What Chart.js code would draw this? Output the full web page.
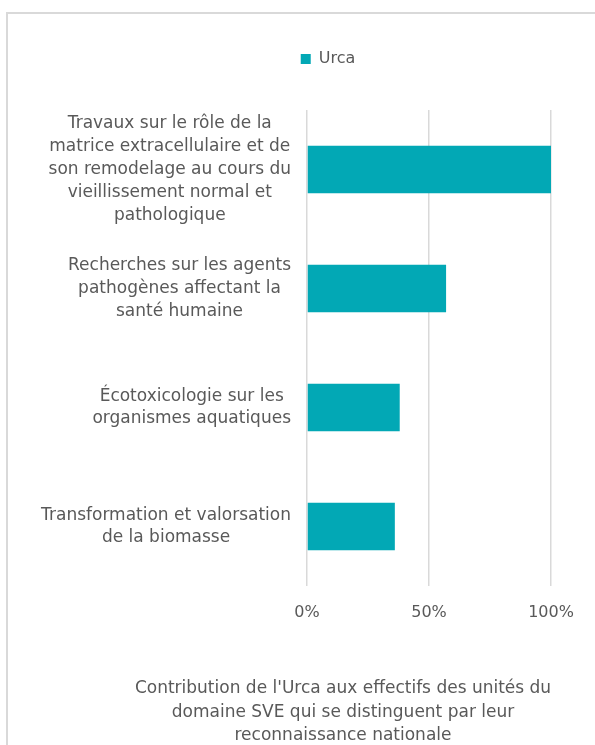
<!DOCTYPE html>
<html>
<head>
<meta charset="utf-8">
<script src="https://cdn.jsdelivr.net/npm/chart.js@4.4.0/dist/chart.umd.min.js"></script>
<style>
html, body { margin:0; padding:0; background:#fff; overflow:hidden; width:595px; height:745px; }
#cadre { position:absolute; left:6px; top:12px; width:600px; height:740px; border-left:2px solid #d9d9d9; border-top:2px solid #d9d9d9; }
#graficoCanvas { position:absolute; left:8px; top:14px; }
</style>
</head>
<body>
<div id="cadre"></div>
<canvas id="graficoCanvas" width="587" height="731"></canvas>
<script>
// donnees
const categories = [
	["Travaux sur le rôle de la", "matrice extracellulaire et de", "son remodelage au cours du", "vieillissement normal et", "pathologique"],
	["Recherches sur les agents", "pathogènes affectant la", "santé humaine"],
	["Écotoxicologie sur les", "organismes aquatiques"],
	["Transformation et valorsation", "de la biomasse"]
]
const serieNom = "Urca"
const valeursUrca = [100, 57, 38, 36]
const ticksX = [0, 50, 100]
const titreAxe = [
	"Contribution de l'Urca aux effectifs des unités du",
	"domaine SVE qui se distinguent par leur",
	"reconnaissance nationale"
]

const police = "'DejaVu Sans', sans-serif"
const gris = '#595959'

// etiquettes des categories : lignes centrees, bloc aligne a droite
const etiquettesY = {
	id: 'etiquettesY',
	afterDraw(chart) {
		const ctx = chart.ctx
		const y = chart.scales.y
		const hLigne = 22.8
		ctx.save()
		ctx.font = '17px ' + police
		ctx.fillStyle = gris
		ctx.textAlign = 'center'
		ctx.textBaseline = 'middle'
		categories.forEach((lignes, i) => {
			const yc = y.getPixelForValue(i)
			const largeur = Math.max(...lignes.map(l => ctx.measureText(l).width))
			const xc = y.right - 16 - largeur / 2
			lignes.forEach((l, j) => {
				ctx.fillText(l, xc, yc + (j - (lignes.length - 1) / 2) * hLigne)
			})
		})
		ctx.restore()
	}
}

// titre de l'axe en bas
const titreBas = {
	id: 'titreBas',
	afterDraw(chart) {
		const ctx = chart.ctx
		ctx.save()
		ctx.font = '17px ' + police
		ctx.fillStyle = gris
		ctx.textAlign = 'center'
		ctx.textBaseline = 'middle'
		titreAxe.forEach((l, j) => {
			ctx.fillText(l, 335, 675 + j * 23.5)
		})
		ctx.restore()
	}
}

// espace sous la legende
const espaceLegende = {
	id: 'espaceLegende',
	beforeInit(chart) {
		const fitOrig = chart.legend.fit
		chart.legend.fit = function () {
			fitOrig.bind(chart.legend)()
			this.height += 33
		}
	}
}

const ctx = document.getElementById('graficoCanvas').getContext('2d')

const graficoUrca = new Chart(ctx, {
	type: 'bar',
	data: {
		labels: categories,
		datasets: [{
			label: serieNom,
			data: valeursUrca,
			backgroundColor: '#02A8B5',
			barPercentage: 0.4,
			categoryPercentage: 1
		}]
	},
	options: {
		indexAxis: 'y',
		responsive: false,
		animation: false,
		layout: {
			padding: { left: 97, right: 44, top: 27, bottom: 119 }
		},
		scales: {
			x: {
				min: 0,
				max: 100,
				afterBuildTicks: (scale) => { scale.ticks = ticksX.map(v => ({ value: v })) },
				afterFit: (scale) => { scale.height = 40 },
				border: { display: false },
				grid: {
					color: '#d9d9d9',
					lineWidth: 1.5,
					drawTicks: false
				},
				ticks: {
					padding: 17,
					color: gris,
					font: { size: 16, family: police },
					callback: (v) => v + '%'
				}
			},
			y: {
				afterFit: (scale) => { scale.width = 202 },
				border: { display: false },
				grid: { display: false },
				ticks: { display: false }
			}
		},
		plugins: {
			legend: {
				display: true,
				position: 'top',
				labels: {
					boxWidth: 10,
					boxHeight: 10,
					color: gris,
					font: { size: 16, family: police }
				}
			},
			tooltip: { enabled: false }
		}
	},
	plugins: [espaceLegende, etiquettesY, titreBas]
})
</script>
</body>
</html>
